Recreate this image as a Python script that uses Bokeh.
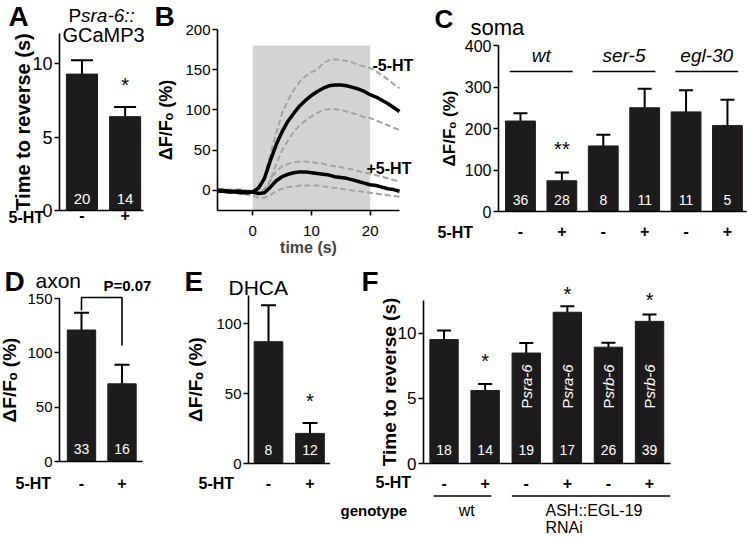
import math
from bokeh.plotting import figure
from bokeh.models import FixedTicker, Label, Range1d, Whisker, TeeHead, ColumnDataSource
from bokeh.layouts import row, column
from bokeh.embed import file_html
from bokeh.resources import INLINE
from bokeh.core.properties import value

FONT = "Liberation Sans"
BAR_COLOR = "#1d1b1c"

# ---------------- data ----------------
HT_LABEL = "5-HT"

A_HT = ["-", "+"]
A_MEAN = [9.3, 6.4]
A_SEM = [0.95, 0.65]
A_N = ["20", "14"]
A_YTICKS = [0, 5, 10]

B_TIME = [-6, -5, -4, -3, -2, -1, 0, 1, 2, 3, 4, 5, 6, 7, 8, 9, 10, 11, 12, 13, 14, 15,
          16, 17, 18, 19, 20, 21, 22, 23, 24, 25]
B_MINUS_MEAN = [-1, -1, -2, -2, -3, -3, -2, 3, 15, 37, 57, 73, 86, 96, 105, 112, 118, 123,
                127, 130, 131, 131, 130, 128, 126, 123, 119, 116, 112, 108, 103, 98]
B_MINUS_UP = [0, 0, -1, -1, -2, -2, -1, 4, 14, 46, 71, 96, 112, 125, 135, 142, 147, 150,
              158, 162, 163, 162, 161, 159, 156, 154, 152, 148, 143, 138, 132, 127]
B_MINUS_LO = [-2, -2, -3, -3, -4, -4, -5, -4, -2, 12, 33, 50, 62, 73, 81, 87, 92, 96,
              100, 101, 101, 100, 98, 96, 94, 91, 90, 87, 84, 81, 78, 75]
B_PLUS_MEAN = [0, 0, -1, -1, -1, -2, -2, -4, -3, 4, 12, 17, 20, 22, 23, 23, 22, 21,
               20, 19, 17, 16, 15, 13, 11, 9, 7, 6, 4, 2, 1, -1]
B_PLUS_UP = [2, 2, 1, 1, 1, 0, 0, -2, 2, 12, 24, 30, 33, 35, 36, 36, 35, 34,
             33, 31, 30, 29, 27, 26, 24, 22, 21, 19, 17, 15, 13, 11]
B_PLUS_LO = [-2, -2, -3, -3, -4, -5, -7, -9, -9, -6, -1, 2, 4, 5, 6, 6, 6, 6,
             5, 4, 3, 2, 1, 0, -1, -2, -3, -4, -5, -6, -7, -8]
B_STIM = [0, 20]
B_STIM_TOP = 180
B_YTICKS = [0, 50, 100, 150, 200]
B_XTICKS = [0, 10, 20]
B_SERIES = ["-5-HT", "+5-HT"]

C_GROUPS = ["wt", "ser-5", "egl-30"]
C_HT = ["-", "+", "-", "+", "-", "+"]
C_MEAN = [218, 74, 158, 250, 240, 207]
C_SEM = [19, 20, 27, 46, 52, 62]
C_N = ["36", "28", "8", "11", "11", "5"]
C_YTICKS = [0, 100, 200, 300, 400]

D_HT = ["-", "+"]
D_MEAN = [121, 71.5]
D_SEM = [16, 17.5]
D_N = ["33", "16"]
D_P = "P=0.07"
D_YTICKS = [0, 50, 100, 150]

E_HT = ["-", "+"]
E_MEAN = [87, 21.5]
E_SEM = [26, 7.5]
E_N = ["8", "12"]
E_YTICKS = [0, 50, 100]

F_HT = ["-", "+", "-", "+", "-", "+"]
F_MEAN = [9.5, 5.6, 8.47, 11.6, 8.92, 10.9]
F_SEM = [0.7, 0.5, 0.78, 0.46, 0.34, 0.52]
F_N = ["18", "14", "19", "17", "26", "39"]
F_PROMOTER = ["", "", "sra-6", "sra-6", "srb-6", "srb-6"]
F_YTICKS = [0, 5, 10]
F_GENOTYPES = ["wt", "ASH::EGL-19", "RNAi"]


# ---------------- layout helpers ----------------
class Geo:
    """Canvas box (cx, cy, cw, ch) in page pixels; the axes' corner/ends in page
    pixels (ax0 = y-axis x, ax1 = x-axis end, ay0 = y-axis top, ay1 = x-axis y)
    together with the data values there (xr, yr)."""

    def __init__(s, cx, cy, cw, ch, ax0, ax1, ay0, ay1, xr, yr):
        s.cx, s.cy, s.cw, s.ch = cx, cy, cw, ch
        s.ax0, s.ax1, s.ay0, s.ay1 = ax0, ax1, ay0, ay1
        s.xr, s.yr = xr, yr

    def x(s, px):
        return s.xr[0] + (px - s.ax0) / (s.ax1 - s.ax0) * (s.xr[1] - s.xr[0])

    def y(s, py):
        return s.yr[0] + (s.ay1 - py) / (s.ay1 - s.ay0) * (s.yr[1] - s.yr[0])


GA = Geo(0, 0, 150, 262, 59, 143, 33, 210, (0.479, 2.426), (0, 12.07))
GB = Geo(150, 0, 275, 262, 217, 399, 29, 210, (-6, 25), (-25, 200))
GC = Geo(425, 0, 322, 262, 498, 746, 45, 211, (0.469, 6.46), (0, 400))
GD = Geo(0, 262, 180, 274, 59, 142, 298, 461, (0.457, 2.506), (0, 150))
GE = Geo(180, 262, 150, 274, 248, 330, 295, 463, (0.518, 2.494), (0, 120))
GF = Geo(330, 262, 417, 274, 423, 670, 300, 463, (0.5, 6.51), (0, 12.5))


def make_fig(g):
    p = figure(width=g.cw, height=g.ch,
               x_range=Range1d(g.x(g.cx), g.x(g.cx + g.cw)),
               y_range=Range1d(g.y(g.cy + g.ch), g.y(g.cy)),
               output_backend="svg", toolbar_location=None,
               min_border_left=0, min_border_right=0, min_border_top=0, min_border_bottom=0)
    p.outline_line_color = None
    p.grid.visible = False
    p.background_fill_color = "white"
    p.border_fill_color = "white"
    p.yaxis[0].fixed_location = g.xr[0]
    p.xaxis[0].fixed_location = g.yr[0]
    p.xaxis[0].bounds = (g.xr[0], g.xr[1])
    p.yaxis[0].bounds = (g.yr[0], g.yr[1])
    return p


def style_yaxis(p, ticks, label, tick_size, label_size, label_standoff):
    ax = p.yaxis[0]
    ax.ticker = FixedTicker(ticks=ticks)
    ax.axis_line_width = 1.6
    ax.axis_line_color = "black"
    ax.major_tick_line_width = 1.6
    ax.major_tick_out = 5
    ax.major_tick_in = 0
    ax.minor_tick_line_color = None
    ax.major_label_standoff = 2
    ax.major_label_text_font = FONT
    ax.major_label_text_font_size = f"{tick_size}px"
    ax.major_label_text_color = "black"
    ax.axis_label = label
    ax.axis_label_text_font = FONT
    ax.axis_label_text_font_style = "bold"
    ax.axis_label_text_font_size = f"{label_size}px"
    ax.axis_label_text_color = "black"
    ax.axis_label_standoff = label_standoff


def style_cat_xaxis(p, labels, standoff):
    ax = p.xaxis[0]
    pos = list(range(1, len(labels) + 1))
    ax.ticker = FixedTicker(ticks=pos)
    ax.major_label_overrides = {i: lab for i, lab in zip(pos, labels)}
    ax.major_tick_line_color = None
    ax.major_tick_out = 0
    ax.major_tick_in = 0
    ax.minor_tick_line_color = None
    ax.axis_line_width = 1.6
    ax.axis_line_color = "black"
    ax.major_label_standoff = standoff
    ax.major_label_text_font = FONT
    ax.major_label_text_font_style = "bold"
    ax.major_label_text_font_size = "16px"
    ax.major_label_text_color = "black"


def lab(p, g, px, py, text, size, style="normal", align="left", baseline="middle",
        color="black"):
    p.add_layout(Label(x=g.x(px), y=g.y(py), text=text, text_font=FONT,
                       text_font_size=f"{size}px", text_font_style=style,
                       text_align=align, text_baseline=baseline, text_color=color))


def dlab(p, g, x, py, text, size, style="normal", align="center"):
    p.add_layout(Label(x=x, y=g.y(py), text=text, text_font=FONT,
                       text_font_size=f"{size}px", text_font_style=style,
                       text_align=align, text_baseline="middle", text_color="black"))


def bars(p, g, means, sems, ns, width, cap, n_py, n_size=14):
    xs = list(range(1, len(means) + 1))
    p.vbar(x=xs, top=means, width=width, bottom=0, fill_color=BAR_COLOR,
           line_color=BAR_COLOR)
    src = ColumnDataSource(dict(x=xs, lower=means,
                                upper=[m + s for m, s in zip(means, sems)]))
    p.add_layout(Whisker(base="x", upper="upper", lower="lower", source=src,
                         line_width=2, line_color="black",
                         upper_head=TeeHead(size=cap, line_width=2, line_color="black"),
                         lower_head=None))
    p.text(x=xs, y=[g.y(n_py)] * len(xs), text=ns, text_color="white",
           text_font=value(FONT), text_font_size=f"{n_size}px",
           text_align="center", text_baseline="middle")
    return xs


# ---------------- Panel A ----------------
pa = make_fig(GA)
ax_ = bars(pa, GA, A_MEAN, A_SEM, A_N, 0.72, 22, 198, 15)
style_yaxis(pa, A_YTICKS, "Time to reverse (s)", 18, 20, -5)
style_cat_xaxis(pa, A_HT, -2)
lab(pa, GA, 8, 16, "A", 28, "bold")
lab(pa, GA, 68, 15, "P", 19)
lab(pa, GA, 80.5, 15, "sra-6::", 19, "italic")
lab(pa, GA, 62, 34, "GCaMP3", 20)
lab(pa, GA, 8, 217, HT_LABEL, 16, "bold")
dlab(pa, GA, ax_[1], 84, "*", 20)

# ---------------- Panel B ----------------
pb = make_fig(GB)
pb.quad(left=[B_STIM[0]], right=[B_STIM[1]], bottom=[GB.yr[0]], top=[B_STIM_TOP],
        fill_color="#d3d3d3", line_color=None)
for ys in (B_MINUS_UP, B_MINUS_LO, B_PLUS_UP, B_PLUS_LO):
    pb.line(B_TIME, ys, line_color="#a3a3a3", line_width=2, line_dash="6 3")
for ys in (B_MINUS_MEAN, B_PLUS_MEAN):
    pb.line(B_TIME, ys, line_color="black", line_width=3.5)
style_yaxis(pb, B_YTICKS, "\u0394F/F\u2092 (%)", 15, 18, 6)
bx = pb.xaxis[0]
bx.ticker = FixedTicker(ticks=B_XTICKS)
bx.axis_line_width = 1.6
bx.axis_line_color = "black"
bx.major_tick_line_width = 1.6
bx.major_tick_out = 5
bx.major_tick_in = 0
bx.minor_tick_line_color = None
bx.major_label_standoff = 10
bx.major_label_text_font = FONT
bx.major_label_text_font_size = "15px"
bx.major_label_text_color = "black"
bx.axis_label = "time (s)"
bx.axis_label_text_font = FONT
bx.axis_label_text_font_style = "bold"
bx.axis_label_text_font_size = "16px"
bx.axis_label_standoff = 0
lab(pb, GB, 154, 16, "B", 28, "bold")
lab(pb, GB, 372, 65, B_SERIES[0], 16, "bold")
lab(pb, GB, 366, 168, B_SERIES[1], 16, "bold")

# ---------------- Panel C ----------------
pc = make_fig(GC)
cx = bars(pc, GC, C_MEAN, C_SEM, C_N, 0.72, 14, 199)
style_yaxis(pc, C_YTICKS, "\u0394F/F\u2092 (%)", 16, 17, 3)
style_cat_xaxis(pc, C_HT, 13)
gmid = [(cx[2 * i] + cx[2 * i + 1]) / 2 for i in range(len(C_GROUPS))]
pc.segment(x0=[m - 0.76 for m in gmid], x1=[m + 0.76 for m in gmid],
           y0=[GC.y(71)] * 3, y1=[GC.y(71)] * 3, line_color="black", line_width=1.6)
pc.text(x=gmid, y=[GC.y(55)] * 3, text=C_GROUPS, text_font=value(FONT),
        text_font_size="19px", text_font_style="italic", text_align="center",
        text_baseline="middle", text_color="black")
lab(pc, GC, 434, 18, "C", 26, "bold")
lab(pc, GC, 470, 27, "soma", 22)
lab(pc, GC, 437, 232, HT_LABEL, 16, "bold")
dlab(pc, GC, cx[1], 148, "**", 20)

# ---------------- Panel D ----------------
pd = make_fig(GD)
dx = bars(pd, GD, D_MEAN, D_SEM, D_N, 0.70, 15, 448)
style_yaxis(pd, D_YTICKS, "\u0394F/F\u2092 (%)", 15, 19, 4)
style_cat_xaxis(pd, D_HT, 15)
pd.line(x=[dx[0], dx[0], dx[1], dx[1]],
        y=[GD.y(310), GD.y(297), GD.y(297), GD.y(345)],
        line_color="black", line_width=1.6)
lab(pd, GD, 4, 281, "D", 28, "bold")
lab(pd, GD, 35, 280, "axon", 21)
lab(pd, GD, 103, 285, D_P, 15, "bold")
lab(pd, GD, 15, 483, HT_LABEL, 16, "bold")

# ---------------- Panel E ----------------
pe = make_fig(GE)
ex = bars(pe, GE, E_MEAN, E_SEM, E_N, 0.69, 15, 449)
style_yaxis(pe, E_YTICKS, "\u0394F/F\u2092 (%)", 15, 19, 7)
style_cat_xaxis(pe, E_HT, 13)
lab(pe, GE, 184, 281, "E", 28, "bold")
lab(pe, GE, 228, 287, "DHCA", 21)
lab(pe, GE, 198, 483, HT_LABEL, 16, "bold")
dlab(pe, GE, ex[1], 400, "*", 20)

# ---------------- Panel F ----------------
pf = make_fig(GF)
fx = bars(pf, GF, F_MEAN, F_SEM, F_N, 0.69, 14, 449)
style_yaxis(pf, F_YTICKS, "Time to reverse (s)", 17, 19, -5)
style_cat_xaxis(pf, F_HT, 13)
rot_x = [x for x, pr in zip(fx, F_PROMOTER) if pr]
rot_t = [pr for pr in F_PROMOTER if pr]
pf.text(x=rot_x, y=[GF.y(398)] * len(rot_x), text=["P"] * len(rot_x), angle=math.pi / 2,
        text_font=value(FONT), text_font_size="15px", text_color="white",
        text_align="right", text_baseline="middle")
pf.text(x=rot_x, y=[GF.y(398)] * len(rot_x), text=rot_t, angle=math.pi / 2,
        text_font=value(FONT), text_font_size="15px", text_font_style="italic",
        text_color="white", text_align="left", text_baseline="middle")
lab(pf, GF, 361, 281, "F", 28, "bold")
lab(pf, GF, 375, 482, HT_LABEL, 16, "bold")
for i, py in ((1, 360), (3, 293), (5, 299)):
    dlab(pf, GF, fx[i], py, "*", 20)
geno_spans = [(fx[0] - 0.25, fx[1] + 0.15), (fx[2] - 0.35, fx[5] + 0.5)]
pf.segment(x0=[s[0] for s in geno_spans], x1=[s[1] for s in geno_spans],
           y0=[GF.y(495.5)] * 2, y1=[GF.y(495.5)] * 2, line_color="black", line_width=1.6)
lab(pf, GF, 340, 510, "genotype", 15, "bold")
dlab(pf, GF, (fx[0] + fx[1]) / 2 + 0.05, 510, F_GENOTYPES[0], 16)
lab(pf, GF, 545, 510, F_GENOTYPES[1], 16)
lab(pf, GF, 545, 527, F_GENOTYPES[2], 16)

layout = column(row(pa, pb, pc), row(pd, pe, pf))
open("out.html", "w").write(file_html(layout, INLINE))
